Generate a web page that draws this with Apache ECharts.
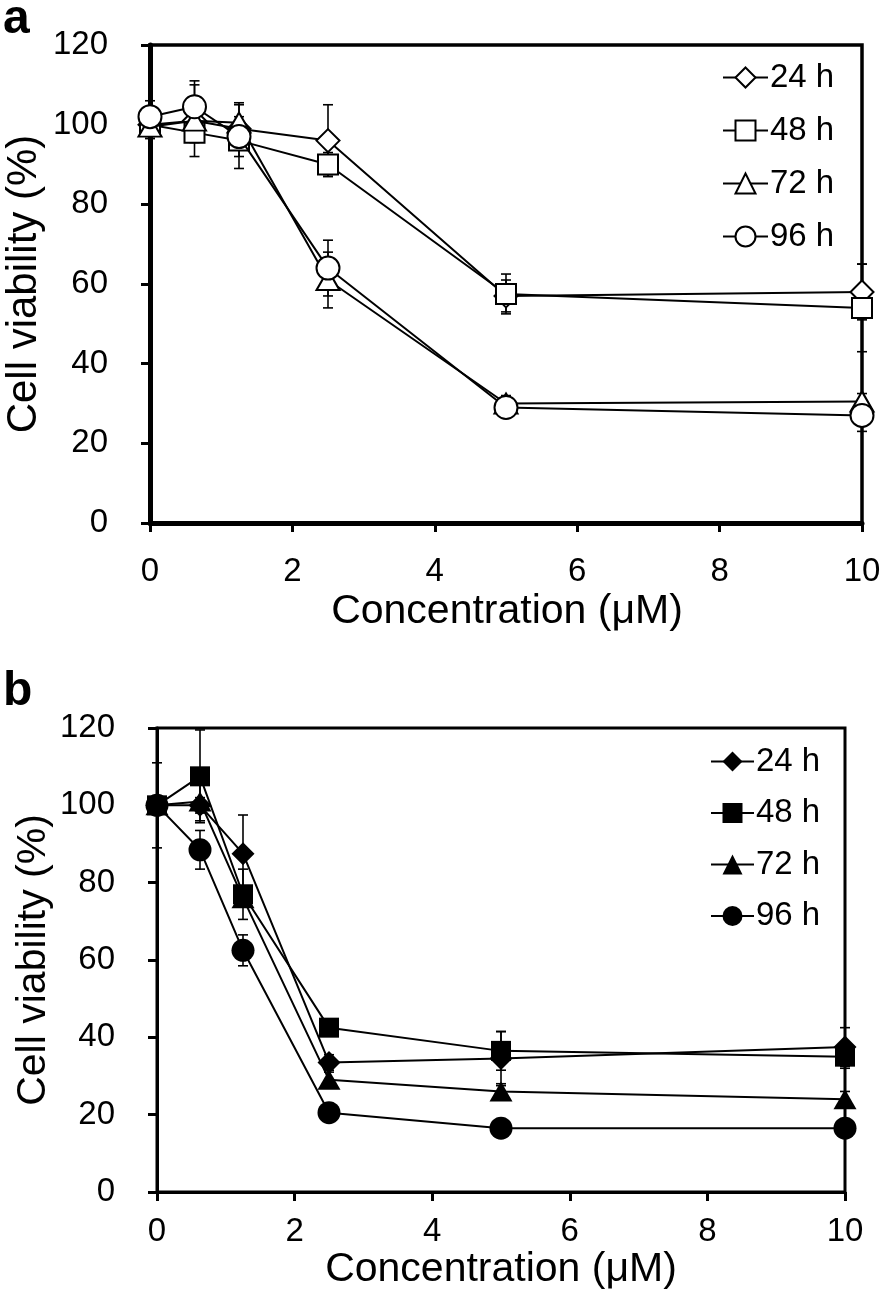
<!DOCTYPE html>
<html>
<head>
<meta charset="utf-8">
<script src="https://cdn.jsdelivr.net/npm/echarts@6/dist/echarts.min.js"></script>
<style>
html,body{margin:0;padding:0;background:#fff;}
#chart{width:886px;height:1300px;}
</style>
</head>
<body>
<div id="chart"></div>
<script>
// Concentrations (µM)
const conc = [0, 0.625, 1.25, 2.5, 5, 10];
const seriesNames = ['24 h', '48 h', '72 h', '96 h'];
const xTicks = [0, 2, 4, 6, 8, 10];
const yTicks = [0, 20, 40, 60, 80, 100, 120];

// Panel a: cell viability (%) and SD
const a24 = [100, 101, 99, 96, 57, 58];
const a48 = [100, 98, 96, 90, 57.5, 54];
const a72 = [99.5, 101, 100.5, 61, 30, 30.5];
const a96 = [102, 104.5, 97, 64, 29, 27];
const a24e = [3, 3, 3, 9, 4, 7];
const a48e = [2, 2.5, 4, 3, 5, 11];
const a72e = [3, 9, 5, 7, 2, 2];
const a96e = [4, 6.5, 8, 7, 2, 4];

// Panel b: cell viability (%) and SD
const b24 = [100, 100, 87.5, 33.5, 34.5, 37.5];
const b48 = [100, 107.5, 77, 42.5, 36.5, 35];
const b72 = [100, 101, 76, 29, 26, 24];
const b96 = [100, 88.5, 62.5, 20.5, 16.5, 16.5];
const b24e = [11, 2, 10, 2, 7, 5];
const b48e = [2, 12, 6.5, 2, 5, 3];
const b72e = [2, 5, 2, 2, 2, 2];
const b96e = [2, 5, 4, 2, 1, 1];

const FONT = 'Liberation Sans, Arial, Helvetica, sans-serif';
const symbols = ['diamond', 'rect', 'triangle', 'circle'];
const symbolSizes = [[23, 23], [20, 20], [23, 20], [23, 23]];

function pairs(vals) { return conc.map((c, i) => [c, vals[i]]); }
function errData(vals, errs) { return conc.map((c, i) => [c, vals[i] - errs[i], vals[i] + errs[i]]); }

function errorSeries(idx, vals, errs) {
  return {
    type: 'custom',
    xAxisIndex: idx, yAxisIndex: idx,
    z: 1,
    silent: true,
    clip: false,
    encode: { x: 0, y: [1, 2] },
    data: errData(vals, errs),
    renderItem: function (params, api) {
      const x = api.value(0);
      const top = api.coord([x, api.value(2)]);
      const bot = api.coord([x, api.value(1)]);
      const hw = 5;
      const st = { stroke: '#000', lineWidth: 1.6 };
      return {
        type: 'group',
        children: [
          { type: 'line', shape: { x1: top[0], y1: top[1], x2: bot[0], y2: bot[1] }, style: st },
          { type: 'line', shape: { x1: top[0] - hw, y1: top[1], x2: top[0] + hw, y2: top[1] }, style: st },
          { type: 'line', shape: { x1: bot[0] - hw, y1: bot[1], x2: bot[0] + hw, y2: bot[1] }, style: st }
        ]
      };
    }
  };
}

function lineSeries(idx, k, vals, filled, z) {
  return {
    type: 'line',
    name: seriesNames[k],
    xAxisIndex: idx, yAxisIndex: idx,
    data: pairs(vals),
    symbol: symbols[k],
    symbolSize: symbolSizes[k],
    showAllSymbol: true,
    clip: false,
    z: z,
    lineStyle: { color: '#000', width: 2 },
    itemStyle: { color: filled ? '#000' : '#fff', borderColor: '#000', borderWidth: filled ? 0 : 2 },
    emphasis: { disabled: true }
  };
}

function xAxis(gridIdx, axisW, margin) {
  return {
    type: 'value', gridIndex: gridIdx, min: 0, max: 10, interval: 2,
    axisLine: { show: true, onZero: false, lineStyle: { color: '#000', width: axisW } },
    axisTick: { show: true, inside: false, length: 9, lineStyle: { color: '#000', width: 3 } },
    axisLabel: { fontFamily: FONT, fontSize: 33, color: '#000', margin: margin },
    splitLine: { show: false }
  };
}
function yAxis(gridIdx, axisW, margin) {
  return {
    type: 'value', gridIndex: gridIdx, min: 0, max: 120, interval: 20,
    axisLine: { show: true, onZero: false, lineStyle: { color: '#000', width: axisW } },
    axisTick: { show: true, inside: false, length: 9, lineStyle: { color: '#000', width: 3 } },
    axisLabel: { fontFamily: FONT, fontSize: 33, color: '#000', margin: margin },
    splitLine: { show: false }
  };
}

function legendData(filled) {
  return seriesNames.map(n => ({
    name: n,
    itemStyle: { color: filled ? '#000' : '#fff', borderColor: '#000', borderWidth: filled ? 0 : 2 }
  }));
}

const legendCommon = {
  orient: 'vertical',
  itemHeight: 25,
  selectedMode: false,
  textStyle: { fontFamily: FONT, fontSize: 33, color: '#000', padding: [0, 0, 0, -3] }
};

const chart = echarts.init(document.getElementById('chart'), null, { renderer: 'canvas' });
const option = {
  animation: false,
  backgroundColor: '#fff',
  grid: [
    { left: 150, right: 24, top: 45, bottom: 777, show: true, borderColor: '#000', borderWidth: 3.5, backgroundColor: 'transparent' },
    { left: 157, right: 41, top: 728, bottom: 108, show: true, borderColor: '#000', borderWidth: 3, backgroundColor: 'transparent' }
  ],
  xAxis: [xAxis(0, 5, 32), xAxis(1, 3, 23)],
  yAxis: [yAxis(0, 5, 42), yAxis(1, 3, 42)],
  legend: [
    Object.assign({}, legendCommon, { left: 717, top: 56, itemWidth: 45, itemGap: 20, data: legendData(false) }),
    Object.assign({}, legendCommon, { left: 705, top: 740, itemWidth: 43, itemGap: 18.5, data: legendData(true) })
  ],
  graphic: [
    { type: 'text', left: 3, top: -4, style: { text: 'a', font: 'bold 48px ' + FONT, fill: '#000' } },
    { type: 'text', left: 3, top: 668, style: { text: 'b', font: 'bold 48px ' + FONT, fill: '#000' } },
    { type: 'text', x: 24, y: 284, rotation: Math.PI / 2, style: { text: 'Cell viability (%)', font: '42px ' + FONT, fill: '#000', textAlign: 'center', textVerticalAlign: 'middle' } },
    { type: 'text', x: 34, y: 960, rotation: Math.PI / 2, style: { text: 'Cell viability (%)', font: '41px ' + FONT, fill: '#000', textAlign: 'center', textVerticalAlign: 'middle' } },
    { type: 'text', x: 507, y: 612, style: { text: 'Concentration (μM)', font: '41px ' + FONT, fill: '#000', textAlign: 'center', textVerticalAlign: 'middle' } },
    { type: 'text', x: 501, y: 1270, style: { text: 'Concentration (μM)', font: '41px ' + FONT, fill: '#000', textAlign: 'center', textVerticalAlign: 'middle' } }
  ],
  series: [
    errorSeries(0, a24, a24e), errorSeries(0, a48, a48e), errorSeries(0, a72, a72e), errorSeries(0, a96, a96e),
    lineSeries(0, 0, a24, false, 3),
    lineSeries(0, 1, a48, false, 4),
    lineSeries(0, 2, a72, false, 5),
    lineSeries(0, 3, a96, false, 6),
    errorSeries(1, b24, b24e), errorSeries(1, b48, b48e), errorSeries(1, b72, b72e), errorSeries(1, b96, b96e),
    lineSeries(1, 3, b96, true, 3),
    lineSeries(1, 2, b72, true, 4),
    lineSeries(1, 0, b24, true, 5),
    lineSeries(1, 1, b48, true, 6)
  ]
};
chart.setOption(option);
</script>
</body>
</html>
